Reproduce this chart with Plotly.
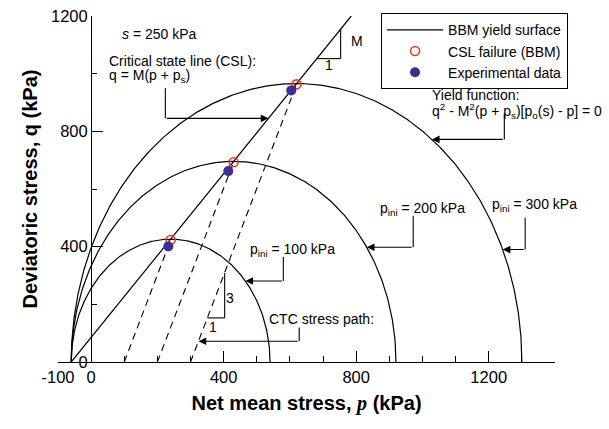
import numpy as np
import plotly.graph_objects as go

# ---------------- data ----------------
M = 1.42            # slope of the CSL
ps = 60.0           # p_s(s) for s = 250 kPa
p0_values = [540, 920, 1300]          # p_o(s) of the three yield surfaces
p_ini = [100, 200, 300]               # start of CTC stress paths
csl_fail_p = [240, 430, 620]          # CSL failure (BBM)
csl_fail_q = [423, 693, 963]
exp_p = [233, 414, 604]               # Experimental data
exp_q = [401, 662, 942]

x_ticks = [-100, 0, 400, 800, 1200]
x_tick_text = ["-100", "0", "400", "800", "1200"]
y_ticks = [0, 400, 800, 1200]

FONT = "Liberation Sans, Arial, sans-serif"
BLACK = "black"

fig = go.Figure()

def yield_curve(p0):
    a = (p0 + ps) / 2.0
    c = (p0 - ps) / 2.0
    t = np.linspace(0, np.pi, 400)
    return c + a * np.cos(t), M * a * np.sin(t)

def yield_p_at_q(p0, q):
    # right-hand branch of q^2 = M^2 (p + ps)(p0 - p)
    k = (q / M) ** 2
    b = p0 - ps
    disc = b * b - 4 * (k - ps * p0)
    return (b + np.sqrt(disc)) / 2.0

for i, p0 in enumerate(p0_values):
    px, qy = yield_curve(p0)
    fig.add_trace(go.Scatter(x=px, y=qy, mode="lines",
                             line=dict(color=BLACK, width=1.2),
                             name="BBM yield surface", showlegend=(i == 0),
                             hoverinfo="skip"))

# CSL line
q_top = 1200
fig.add_trace(go.Scatter(x=[-ps, q_top / M - ps], y=[0, q_top], mode="lines",
                         line=dict(color=BLACK, width=1.2), showlegend=False,
                         hoverinfo="skip"))

# CTC stress paths (dashed)
for pi, pf, qf in zip(p_ini, csl_fail_p, csl_fail_q):
    fig.add_trace(go.Scatter(x=[pi, pf], y=[0, qf], mode="lines",
                             line=dict(color=BLACK, width=1.1, dash="7px,5px"),
                             showlegend=False, hoverinfo="skip"))

fig.add_trace(go.Scatter(x=csl_fail_p, y=csl_fail_q, mode="markers",
                         name="CSL failure (BBM)",
                         marker=dict(symbol="circle-open", size=9,
                                     color="#ee3a1c", line=dict(width=1.6, color="#ee3a1c"))))
fig.add_trace(go.Scatter(x=exp_p, y=exp_q, mode="markers",
                         name="Experimental data",
                         marker=dict(symbol="circle", size=10, color="#3a2f8e")))

shapes = []
annotations = []

def seg(x0, y0, x1, y1, w=1.1):
    shapes.append(dict(type="line", xref="x", yref="y", x0=x0, y0=y0, x1=x1, y1=y1,
                       line=dict(color=BLACK, width=w)))

def arrow(x_tip, y_tip, x_tail, y_tail):
    annotations.append(dict(x=x_tip, y=y_tip, ax=x_tail, ay=y_tail, xref="x", yref="y",
                            axref="x", ayref="y", text="", showarrow=True,
                            arrowhead=2, arrowsize=1.4, arrowwidth=1.1, arrowcolor=BLACK))

def label(x, y, text, size=14, xanchor="left"):
    annotations.append(dict(x=x, y=y, xref="x", yref="y", text=text, showarrow=False,
                            xanchor=xanchor, yanchor="middle",
                            font=dict(family=FONT, size=size, color=BLACK)))

# texts
label(88, 1137, "<i>s</i> = 250 kPa")
label(49, 1043, "Critical state line (CSL):")
label(49, 991, "q = M(p + p<sub>s</sub>)")
label(1023, 925, "Yield function:")
label(1023, 872, "q<sup>2</sup> - M<sup>2</sup>(p + p<sub>s</sub>)[p<sub>o</sub>(s) - p] = 0")
label(866, 529, "p<sub>ini</sub> = 200 kPa")
label(1205, 543, "p<sub>ini</sub> = 300 kPa")
label(474, 388, "p<sub>ini</sub> = 100 kPa")
label(531, 148, "CTC stress path:")

# CSL connector
seg(224, 949, 224, 845)
arrow(845 / M - ps, 845, 224, 845)
# yield function connector
seg(1247, 862, 1247, 772)
arrow(yield_p_at_q(p0_values[2], 772), 772, 1247, 772)
# p_ini = 200
seg(972, 507, 972, 398)
arrow(yield_p_at_q(p0_values[1], 398), 398, 972, 398)
# p_ini = 300
seg(1310, 500, 1310, 390)
arrow(yield_p_at_q(p0_values[2], 390), 390, 1310, 390)
# p_ini = 100
seg(580, 364, 580, 281)
arrow(yield_p_at_q(p0_values[0], 281), 281, 580, 281)
# CTC stress path
seg(628, 120, 628, 72)
arrow(p_ini[2] + 72 / 3.0, 72, 628, 72)

# slope triangle on CSL (1 : M)
pa, pb = 681, 753
seg(pa, M * (pa + ps), pb, M * (pa + ps))
seg(pb, M * (pa + ps), pb, M * (pb + ps))
label(779, 1112, "M")
label(719, 1029, "1", xanchor="center")

# slope triangle on CTC path (1 : 3)
qa = 153
pa2 = p_ini[2] + qa / 3.0
pb2 = pa2 + 52
seg(pa2, qa, pb2, qa)
seg(pb2, qa, pb2, 3 * (pb2 - p_ini[2]))
label(418, 221, "3", xanchor="center")
label(368, 120, "1", xanchor="center")

fig.update_layout(
    width=609, height=429,
    margin=dict(l=58, r=54, t=16, b=67, autoexpand=False),
    paper_bgcolor="white", plot_bgcolor="white",
    font=dict(family=FONT, size=16.5, color=BLACK),
    shapes=shapes, annotations=annotations,
    legend=dict(x=0.65, y=1.008, xanchor="left", yanchor="top",
                bordercolor=BLACK, borderwidth=1, bgcolor="white",
                font=dict(family=FONT, size=14, color=BLACK),
                itemwidth=56, tracegroupgap=0),
    xaxis=dict(range=[-100, 1400], showgrid=False, zeroline=False,
               showline=True, linecolor=BLACK, linewidth=1.2,
               ticks="inside", ticklen=11, tickwidth=1.1, tickcolor=BLACK,
               tickmode="array", tickvals=x_ticks, ticktext=x_tick_text,
               tickfont=dict(family=FONT, size=16.5, color=BLACK),
               minor=dict(ticks="inside", ticklen=6, tickwidth=1.1, tickcolor=BLACK,
                          tickmode="array",
                          tickvals=[v for v in range(-100, 1401, 100) if v not in x_ticks]),
               title=dict(text="<b>Net mean stress, <i style='font-family:Liberation Serif'>p</i> (kPa)</b>",
                          font=dict(family=FONT, size=20, color=BLACK), standoff=11)),
    yaxis=dict(range=[0, 1200], showgrid=False, zeroline=False,
               anchor="free", position=100 / 1500,
               showline=True, linecolor=BLACK, linewidth=1.2,
               ticks="inside", ticklen=11, tickwidth=1.1, tickcolor=BLACK,
               tickmode="array", tickvals=y_ticks,
               tickfont=dict(family=FONT, size=16.5, color=BLACK),
               minor=dict(ticks="inside", ticklen=5, tickwidth=1.1, tickcolor=BLACK,
                          tickmode="array", tickvals=[200, 600, 1000]),
               title=dict(text="<b>Deviatoric stress, q (kPa)</b>",
                          font=dict(family=FONT, size=20, color=BLACK), standoff=7)),
)

fig.write_html("out.html")
